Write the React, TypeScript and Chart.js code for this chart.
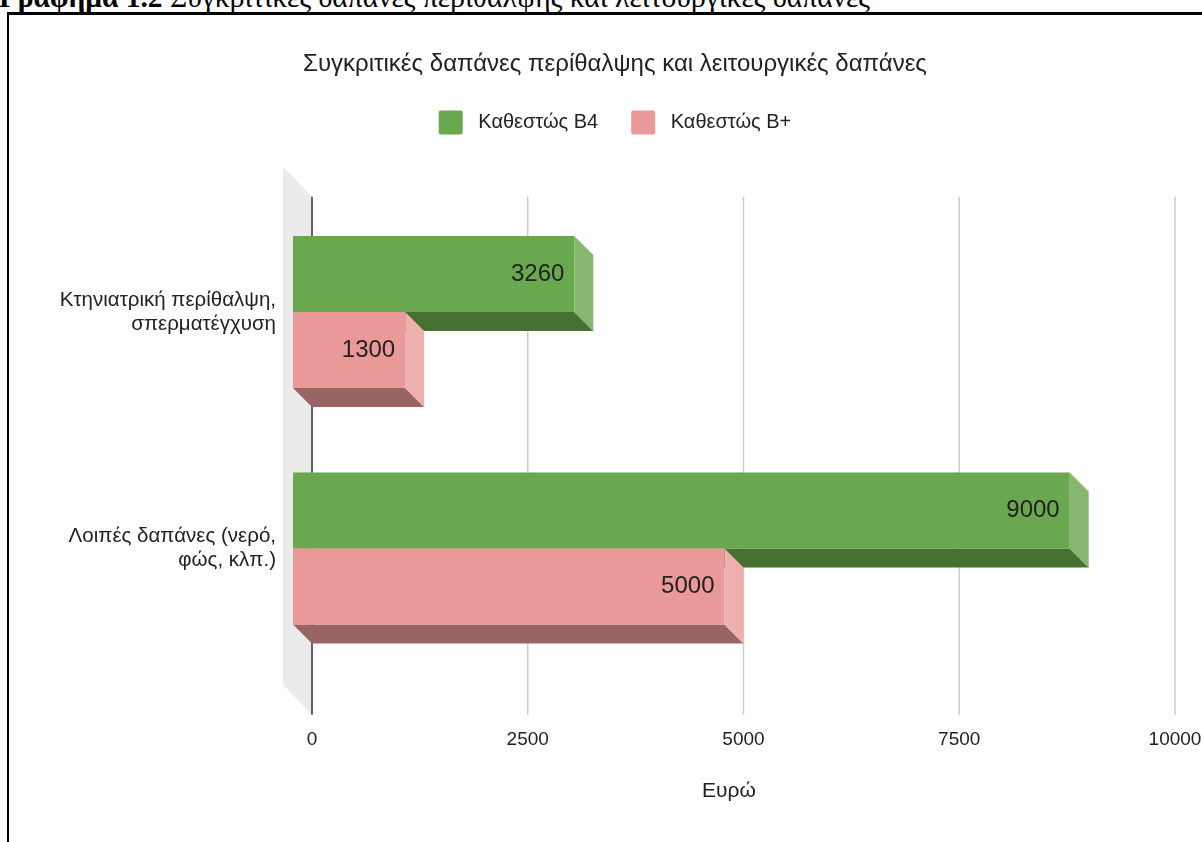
import React, { useEffect, useRef } from 'react';
import { Chart, registerables } from 'chart.js';

Chart.register(...registerables);

// ---- data ----
const categories: string[][] = [
  ['Κτηνιατρική περίθαλψη,', 'σπερματέγχυση'],
  ['Λοιπές δαπάνες (νερό,', 'φώς, κλπ.)'],
];
const seriesNames = ['Καθεστώς Β4', 'Καθεστώς Β+'];
const valuesB4 = [3260, 9000];
const valuesBplus = [1300, 5000];
const xTicks = [0, 2500, 5000, 7500, 10000];
const chartTitle = 'Συγκριτικές δαπάνες περίθαλψης και λειτουργικές δαπάνες';
const xAxisTitle = 'Ευρώ';
const captionBold = 'Γράφημα 1.2';
const captionRest = ' Συγκριτικές δαπάνες περίθαλψης και λειτουργικές δαπάνες';

// ---- styles ----
const FONT = "'Liberation Sans', Arial, sans-serif";
const TEXT = '#222222';
const faceColors = [
  { front: '#6aa84f', side: '#85b86e', bottom: '#477133' },
  { front: '#ea9999', side: '#eeafaf', bottom: '#986464' },
];
const DEPTH = 19;
const WALL = 29;
const CANVAS_W = 1169;
const CANVAS_H = 827;

const bar3d = {
  id: 'bar3d',
  beforeDatasetsDraw(chart: any) {
    const { ctx, chartArea, scales } = chart;
    const x = scales.x;
    const gTop = chartArea.top + 3;
    const gBot = chartArea.bottom + 48;
    const x0 = x.getPixelForValue(0);
    ctx.save();
    ctx.fillStyle = '#ebebeb';
    ctx.beginPath();
    ctx.moveTo(x0 - WALL, gTop - WALL - 1);
    ctx.lineTo(x0, gTop);
    ctx.lineTo(x0, gBot);
    ctx.lineTo(x0 - WALL, gBot - WALL - 1);
    ctx.closePath();
    ctx.fill();
    x.ticks.forEach((t: any) => {
      const px = x.getPixelForValue(t.value);
      ctx.strokeStyle = t.value === 0 ? '#333333' : '#cccccc';
      ctx.lineWidth = 1.5;
      ctx.beginPath();
      ctx.moveTo(px, gTop);
      ctx.lineTo(px, gBot);
      ctx.stroke();
    });
    ctx.restore();
  },
  beforeDatasetDraw() {
    return false;
  },
  afterDatasetsDraw(chart: any) {
    const { ctx } = chart;
    const n = chart.data.labels.length;
    ctx.save();
    for (let i = 0; i < n; i++) {
      for (let d = 0; d < chart.data.datasets.length; d++) {
        const el = chart.getDatasetMeta(d).data[i];
        const { x: xe, base, y, height } = el.getProps(['x', 'base', 'y', 'height'], true);
        const c = faceColors[d];
        const fx0 = base - DEPTH;
        const fx1 = xe - DEPTH;
        const fy0 = y - height / 2;
        const fy1 = y + height / 2;
        // bottom face
        ctx.fillStyle = c.bottom;
        ctx.beginPath();
        ctx.moveTo(fx0, fy1);
        ctx.lineTo(fx1, fy1);
        ctx.lineTo(fx1 + DEPTH, fy1 + DEPTH);
        ctx.lineTo(fx0 + DEPTH, fy1 + DEPTH);
        ctx.closePath();
        ctx.fill();
        // right face
        ctx.fillStyle = c.side;
        ctx.beginPath();
        ctx.moveTo(fx1, fy0);
        ctx.lineTo(fx1 + DEPTH, fy0 + DEPTH);
        ctx.lineTo(fx1 + DEPTH, fy1 + DEPTH);
        ctx.lineTo(fx1, fy1);
        ctx.closePath();
        ctx.fill();
        // front face
        ctx.fillStyle = c.front;
        ctx.fillRect(fx0, fy0, fx1 - fx0, fy1 - fy0);
        // value label
        const v = chart.data.datasets[d].data[i];
        ctx.fillStyle = TEXT;
        ctx.font = `24px ${FONT}`;
        ctx.textAlign = 'right';
        ctx.textBaseline = 'middle';
        ctx.fillText(String(v), fx1 - 10, y);
      }
    }
    // axis title, centred over wall + plot
    const x = chart.scales.x;
    const cx = (x.getPixelForValue(0) - WALL + x.getPixelForValue(xTicks[xTicks.length - 1])) / 2;
    ctx.fillStyle = TEXT;
    ctx.font = `21px ${FONT}`;
    ctx.textAlign = 'center';
    ctx.textBaseline = 'middle';
    ctx.fillText(xAxisTitle, cx, chart.chartArea.bottom + 124);
    ctx.restore();
  },
};

function ChartView() {
  const ref = useRef<HTMLCanvasElement>(null);
  useEffect(() => {
    if (!ref.current) return;
    const chart = new Chart(ref.current, {
      type: 'bar',
      data: {
        labels: categories as any,
        datasets: [
          { label: seriesNames[0], data: valuesB4, backgroundColor: faceColors[0].front },
          { label: seriesNames[1], data: valuesBplus, backgroundColor: faceColors[1].front },
        ],
      },
      options: {
        indexAxis: 'y',
        responsive: false,
        animation: false,
        devicePixelRatio: 1,
        categoryPercentage: 0.643,
        barPercentage: 1,
        layout: { padding: { left: 0, right: 49, top: 0, bottom: 0 } },
        events: [],
        plugins: {
          title: {
            display: true,
            text: chartTitle,
            color: TEXT,
            font: { family: FONT, size: 24, weight: 'normal', lineHeight: 1 },
            padding: { top: 37, bottom: 1.5 },
          },
          legend: {
            display: true,
            position: 'top',
            labels: {
              boxWidth: 24,
              boxHeight: 24,
              padding: 33,
              color: TEXT,
              useBorderRadius: true,
              borderRadius: 2,
              font: { family: FONT, size: 20 },
              generateLabels: (c: any) =>
                (Chart.defaults.plugins.legend.labels.generateLabels as any)(c).map((l: any) => ({
                  ...l,
                  text: ' ' + l.text,
                  lineWidth: 0,
                })),
            },
          },
          tooltip: { enabled: false },
        },
        scales: {
          x: {
            type: 'linear',
            position: 'bottom',
            min: xTicks[0],
            max: xTicks[xTicks.length - 1],
            grid: { display: false, drawTicks: false },
            border: { display: false },
            afterBuildTicks: (s: any) => {
              s.ticks = xTicks.map((v) => ({ value: v }));
            },
            ticks: {
              padding: 62,
              color: TEXT,
              font: { family: FONT, size: 19 },
              maxRotation: 0,
              autoSkip: false,
              callback: (v: any) => String(v),
            },
            afterFit: (s: any) => {
              s.height = CANVAS_H - 651.75;
              s.paddingLeft = 0;
              s.paddingRight = 0;
            },
          },
          spacer: {
            axis: 'x',
            type: 'linear',
            position: 'top',
            display: true,
            grid: { display: false, drawTicks: false },
            border: { display: false },
            ticks: { display: false },
            afterFit: (s: any) => {
              s.height = 49.25;
              s.paddingLeft = 0;
              s.paddingRight = 0;
            },
          },
          y: {
            type: 'category',
            grid: { display: false, drawTicks: false },
            border: { display: false },
            ticks: {
              padding: 36,
              color: TEXT,
              font: { family: FONT, size: 20.5, lineHeight: 1.17 },
              autoSkip: false,
            },
            afterFit: (s: any) => {
              s.width = 257;
              s.paddingTop = 0;
              s.paddingBottom = 0;
            },
          },
        },
      } as any,
      plugins: [bar3d],
    });
    return () => chart.destroy();
  }, []);
  return (
    <canvas
      ref={ref}
      width={CANVAS_W}
      height={CANVAS_H}
      style={{ position: 'absolute', left: 55, top: 15 }}
    />
  );
}

export default function App() {
  return (
    <div
      style={{
        position: 'fixed',
        left: 0,
        top: 0,
        width: 1202,
        height: 842,
        overflow: 'hidden',
        background: '#ffffff',
      }}
    >
      <div
        style={{
          position: 'absolute',
          left: -1,
          top: -17.2,
          whiteSpace: 'nowrap',
          fontFamily: "'Liberation Serif', 'Times New Roman', serif",
          fontSize: 29.5,
          lineHeight: 1,
          color: '#000',
        }}
      >
        <b>{captionBold}</b>
        {captionRest}
      </div>
      <div
        style={{
          position: 'absolute',
          left: 7,
          top: 12,
          width: 1300,
          height: 900,
          borderLeft: '2px solid #000',
          borderTop: '3px solid #000',
        }}
      />
      <ChartView />
    </div>
  );
}
